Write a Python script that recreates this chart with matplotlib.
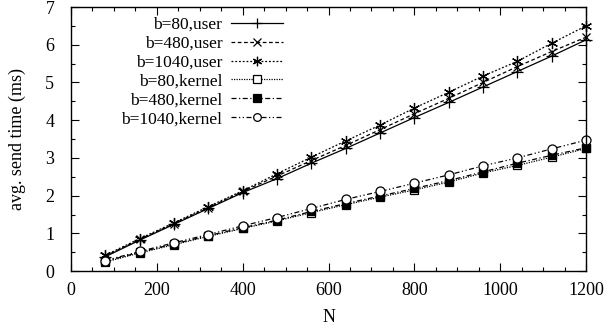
import matplotlib
matplotlib.use("Agg")
import matplotlib.pyplot as plt
from matplotlib.ticker import MultipleLocator

plt.rcParams['font.family'] = ['Liberation Serif', 'DejaVu Serif']
plt.rcParams['font.size'] = 13

N = [80, 160, 240, 320, 400, 480, 560, 640, 720, 800, 880, 960, 1040, 1120, 1200]

user_b80 = [0.38, 0.82, 1.24, 1.66, 2.08, 2.45, 2.86, 3.25, 3.66, 4.07, 4.47, 4.88, 5.29, 5.70, 6.13]
user_b480 = [0.40, 0.84, 1.26, 1.68, 2.11, 2.52, 2.93, 3.33, 3.75, 4.17, 4.58, 5.00, 5.42, 5.82, 6.20]
user_b1040 = [0.42, 0.86, 1.28, 1.71, 2.13, 2.58, 3.02, 3.45, 3.87, 4.32, 4.74, 5.17, 5.56, 6.04, 6.50]
kern_b80 = [0.24, 0.48, 0.70, 0.92, 1.13, 1.33, 1.55, 1.76, 1.96, 2.15, 2.36, 2.60, 2.80, 3.02, 3.25]
kern_b480 = [0.26, 0.50, 0.72, 0.94, 1.15, 1.35, 1.58, 1.79, 1.99, 2.19, 2.40, 2.63, 2.86, 3.07, 3.27]
kern_b1040 = [0.28, 0.52, 0.75, 0.97, 1.20, 1.42, 1.66, 1.90, 2.11, 2.33, 2.55, 2.79, 3.00, 3.24, 3.47]

labels = ["b=80,user", "b=480,user", "b=1040,user",
          "b=80,kernel", "b=480,kernel", "b=1040,kernel"]

fig = plt.figure(figsize=(6.13, 3.29), dpi=100)
ax = fig.add_axes([0.1158, 0.176, 0.8402, 0.8027])

lw = 0.9
styles = [
    dict(linestyle='-', marker='+', ms=8, mfc='none'),
    dict(linestyle=(0, (3, 2)), marker='x', ms=6, mfc='none'),
    dict(linestyle=(0, (1.5, 1.5)), marker=(6, 2, 0), ms=8, mfc='none'),
    dict(linestyle=(0, (1, 1)), marker='s', ms=6, mfc='white'),
    dict(linestyle=(0, (4, 2, 1, 2)), marker='s', ms=6, mfc='black'),
    dict(linestyle=(0, (4, 2, 1, 2, 1, 2)), marker='o', ms=6.5, mfc='white'),
]
series = [user_b80, user_b480, user_b1040, kern_b80, kern_b480, kern_b1040]
for vals, lab, st in zip(series, labels, styles):
    ax.plot(N, vals, color='black', lw=lw, mec='black', mew=0.9, label=lab,
            clip_on=False, **st)

ax.set_xlim(0, 1200)
ax.set_ylim(0, 7)
ax.xaxis.set_major_locator(MultipleLocator(200))
ax.xaxis.set_minor_locator(MultipleLocator(50))
ax.yaxis.set_major_locator(MultipleLocator(1))
ax.yaxis.set_minor_locator(MultipleLocator(0.5))
ax.tick_params(which='both', direction='in', top=True, right=True)
ax.tick_params(which='major', length=6, width=0.8)
ax.tick_params(axis='x', which='major', pad=8)
ax.tick_params(axis='y', which='major', pad=12)
ax.tick_params(which='minor', length=3, width=0.8)
for s in ax.spines.values():
    s.set_linewidth(1.0)

ax.set_xlabel("N", labelpad=7)
ax.set_ylabel("avg. send time (ms)", labelpad=14)

leg = ax.legend(loc='upper right', bbox_to_anchor=(0.425, 0.99), frameon=False,
                markerfirst=False, handlelength=3.0, handletextpad=0.5,
                labelspacing=0.16, borderaxespad=0.0, fontsize=12.5,
                markerscale=0.85)
for t in leg.get_texts():
    t.set_ha('right')
leg._legend_box.align = 'right'

fig.savefig("out.png", dpi=100)
